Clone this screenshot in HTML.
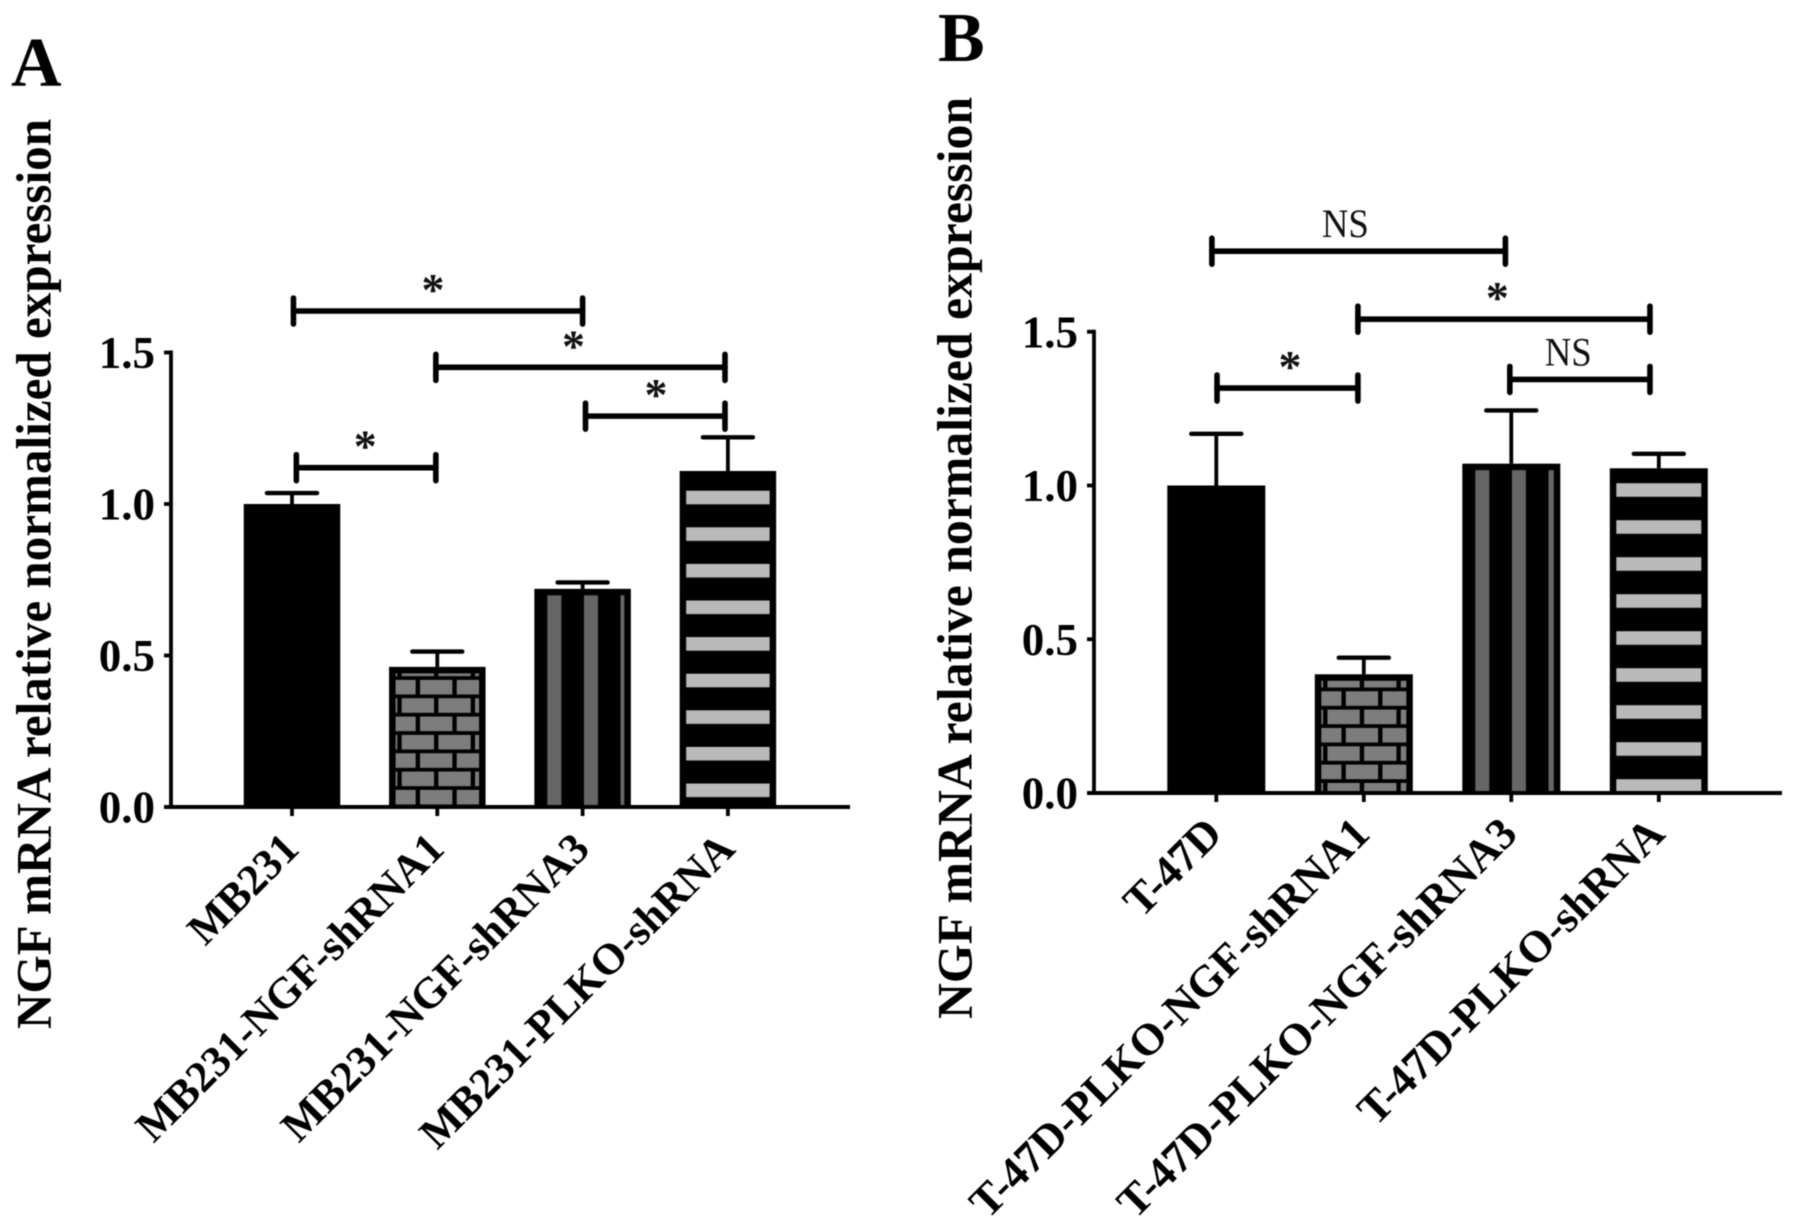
<!DOCTYPE html>
<html lang="en">
<head>
<meta charset="utf-8">
<title>NGF mRNA relative normalized expression</title>
<style>
html,body{margin:0;padding:0;background:#fff;}
svg{display:block;font-family:"Liberation Serif",serif;filter:blur(0.5px);}
</style>
</head>
<body>
<svg id="figure" xmlns="http://www.w3.org/2000/svg" width="1795" height="1230" viewBox="0 0 1795 1230">
  <rect width="1795" height="1230" fill="#ffffff"/>
  <defs id="defs"></defs>
  <text x="11" y="86" font-size="70" font-weight="bold" fill="#000">A</text>
  <text x="938" y="61" font-size="70" font-weight="bold" fill="#000">B</text>
  <text transform="translate(50.5,1029) rotate(-90)" font-size="50" font-weight="bold" fill="#000" textLength="910" lengthAdjust="spacingAndGlyphs">NGF mRNA relative normalized expression</text>
  <text transform="translate(971.5,1019) rotate(-90)" font-size="50" font-weight="bold" fill="#000" textLength="922" lengthAdjust="spacingAndGlyphs">NGF mRNA relative normalized expression</text>
  <g id="panel-a"></g>
  <g id="panel-b"></g>
</svg>
<script>
// Shared axis ticks
const yTickValues = [0, 0.5, 1.0, 1.5];

// Panel A data
const categoriesA = ["MB231", "MB231-NGF-shRNA1", "MB231-NGF-shRNA3", "MB231-PLKO-shRNA"];
const valuesA = [1.0, 0.4625, 0.72, 1.109];
const errorTopsA = [1.036, 0.513, 0.741, 1.22];
const bracketFromA = [0.01, 0.99, 2.02, 0.03];
const bracketToA = [2.0, 2.98, 2.98, 0.99];
const bracketLevelA = [1.637, 1.451, 1.29, 1.12];
const bracketLabelA = ["*", "*", "*", "*"];
const bracketLabelAtA = [0.97, 1.937, 2.505, 0.504];

// Panel B data
const categoriesB = ["T-47D", "T-47D-PLKO-NGF-shRNA1", "T-47D-PLKO-NGF-shRNA3", "T-47D-PLKO-shRNA"];
const valuesB = [1.0, 0.386, 1.071, 1.056];
const errorTopsB = [1.168, 0.44, 1.244, 1.103];
const bracketFromB = [-0.03, 0.96, 1.99, 0.005];
const bracketToB = [1.96, 2.94, 2.94, 0.96];
const bracketLevelB = [1.762, 1.541, 1.345, 1.317];
const bracketLabelB = ["NS", "*", "NS", "*"];
const bracketLabelAtB = [0.875, 1.906, 2.386, 0.5];

const SVGNS = "http://www.w3.org/2000/svg";
function make(tag, attrs, parent) {
  const el = document.createElementNS(SVGNS, tag);
  for (const k in attrs) el.setAttribute(k, attrs[k]);
  parent.appendChild(el);
  return el;
}

function drawPanel(cfg) {
  const root = document.getElementById(cfg.id);
  const defs = document.getElementById("defs");
  const x = function (i) { return cfg.x0 + cfg.step * i; };
  const y = function (v) { return cfg.base - cfg.unit * v; };
  const barW = cfg.barW;
  const inset = cfg.inset;

  // Fill patterns, anchored to the panel geometry
  const brick = make("pattern", {id: cfg.id + "-brick", patternUnits: "userSpaceOnUse", x: x(1) - barW / 2 + 31, y: cfg.brickY, width: 36.67, height: 36.67}, defs);
  make("rect", {width: 36.67, height: 36.67, fill: "#000"}, brick);
  make("rect", {x: 0, y: 0, width: 32.3, height: 14.6, fill: "#7d7d7d"}, brick);
  make("rect", {x: 18.33, y: 18.33, width: 32.3, height: 14.6, fill: "#7d7d7d"}, brick);
  make("rect", {x: -18.33, y: 18.33, width: 32.3, height: 14.6, fill: "#7d7d7d"}, brick);

  const vert = make("pattern", {id: cfg.id + "-vertical", patternUnits: "userSpaceOnUse", x: x(2) - barW / 2 + 13, y: 0, width: 36.6, height: 100}, defs);
  make("rect", {width: 36.6, height: 100, fill: "#000"}, vert);
  make("rect", {width: 14, height: 100, fill: "#666666"}, vert);

  const horiz = make("pattern", {id: cfg.id + "-horizontal", patternUnits: "userSpaceOnUse", x: 0, y: cfg.stripeY, width: 100, height: cfg.stripeP}, defs);
  make("rect", {width: 100, height: cfg.stripeP, fill: "#000"}, horiz);
  make("rect", {width: 100, height: 13.6, fill: "#b9b9b9"}, horiz);

  const fills = ["#000", "url(#" + cfg.id + "-brick)", "url(#" + cfg.id + "-vertical)", "url(#" + cfg.id + "-horizontal)"];

  // Bars and error bars
  cfg.values.forEach(function (v, i) {
    const bar = make("rect", {x: x(i) - barW / 2, y: y(v), width: barW, height: cfg.unit * v, fill: "#000"}, root);
    
    
    if (i > 0) {
      const inner = make("rect", {x: x(i) - barW / 2 + inset, y: y(v) + inset, width: barW - 2 * inset, height: Math.max(0, cfg.unit * v - inset), fill: fills[i]}, root);
      
      
    }
    const stem = make("line", {x1: x(i), x2: x(i), y1: y(v), y2: y(cfg.errorTops[i]), stroke: "#000", "stroke-width": 3.8}, root);
    
    
    const cap = make("line", {x1: x(i) - 25, x2: x(i) + 25, y1: y(cfg.errorTops[i]), y2: y(cfg.errorTops[i]), stroke: "#000", "stroke-width": 4.4, "stroke-linecap": "round"}, root);
    
    
  });

  // Y axis
  const yAxis = make("line", {x1: cfg.axisX, x2: cfg.axisX, y1: y(1.5) - 2, y2: cfg.base + 2, stroke: "#000", "stroke-width": 3.8}, root);
  
  
  yTickValues.forEach(function (t) {
    const tick = make("line", {x1: cfg.axisX - 7, x2: cfg.axisX, y1: y(t), y2: y(t), stroke: "#000", "stroke-width": 3.8}, root);
    
    
    const lab = make("text", {x: cfg.axisX - 16, y: y(t) + 15.5, "text-anchor": "end", "font-size": 45, "font-weight": "bold", fill: "#000"}, root);
    
    
    lab.textContent = t.toFixed(1);
  });

  // X axis
  const xAxis = make("line", {x1: cfg.axisX - 6, x2: cfg.axisEnd, y1: cfg.base, y2: cfg.base, stroke: "#000", "stroke-width": 4}, root);
  
  
  cfg.categories.forEach(function (c, i) {
    const tick = make("line", {x1: x(i), x2: x(i), y1: cfg.base, y2: cfg.base + 9, stroke: "#000", "stroke-width": 3.8}, root);
    
    
    const tx = x(i) + cfg.labelDx;
    const ty = cfg.base + cfg.labelDy;
    const lab = make("text", {transform: "translate(" + tx + "," + ty + ") rotate(-45)", "text-anchor": "end", "font-size": cfg.labelFont, "font-weight": "bold", fill: "#000"}, root);
    
    
    lab.textContent = c;
  });

  // Significance brackets
  cfg.bracketFrom.forEach(function (from, i) {
    const x1 = x(from);
    const x2 = x(cfg.bracketTo[i]);
    const by = y(cfg.bracketLevel[i]);
    const common = {stroke: "#000", "stroke-width": 5.6, "stroke-linecap": "round"};
    const g = make("g", common, root);
    
    
    make("line", {x1: x1, x2: x2, y1: by, y2: by}, g);
    make("line", {x1: x1, x2: x1, y1: by - 13, y2: by + 13}, g);
    make("line", {x1: x2, x2: x2, y1: by - 13, y2: by + 13}, g);
    const label = cfg.bracketLabel[i];
    const lx = x(cfg.bracketLabelAt[i]);
    const t = label === "*"
      ? make("text", {x: lx, y: by - 6, "text-anchor": "middle", "font-size": 46, "font-weight": "bold", fill: "#111"}, root)
      : make("text", {x: lx, y: by - 14, "text-anchor": "middle", "font-size": 40, textLength: 47, lengthAdjust: "spacingAndGlyphs", fill: "#111"}, root);
    
    
    t.textContent = label;
  });
}

drawPanel({
  id: "panel-a", x0: 292, step: 145.3, base: 807, unit: 303, barW: 96.5, inset: 6.5,
  axisX: 171, axisEnd: 850, labelDx: 9, labelDy: 44, labelFont: 43.6,
  brickY: 789.9, stripeY: 490.7, stripeP: 36.6,
  categories: categoriesA, values: valuesA, errorTops: errorTopsA,
  bracketFrom: bracketFromA, bracketTo: bracketToA, bracketLevel: bracketLevelA, bracketLabel: bracketLabelA, bracketLabelAt: bracketLabelAtA
});
drawPanel({
  id: "panel-b", x0: 1216.3, step: 147.5, base: 793, unit: 307.5, barW: 98, inset: 6.5,
  axisX: 1094, axisEnd: 1782, labelDx: 8, labelDy: 43, labelFont: 44.6,
  brickY: 764.6, stripeY: 483.2, stripeP: 37,
  categories: categoriesB, values: valuesB, errorTops: errorTopsB,
  bracketFrom: bracketFromB, bracketTo: bracketToB, bracketLevel: bracketLevelB, bracketLabel: bracketLabelB, bracketLabelAt: bracketLabelAtB
});
</script>
</body>
</html>
